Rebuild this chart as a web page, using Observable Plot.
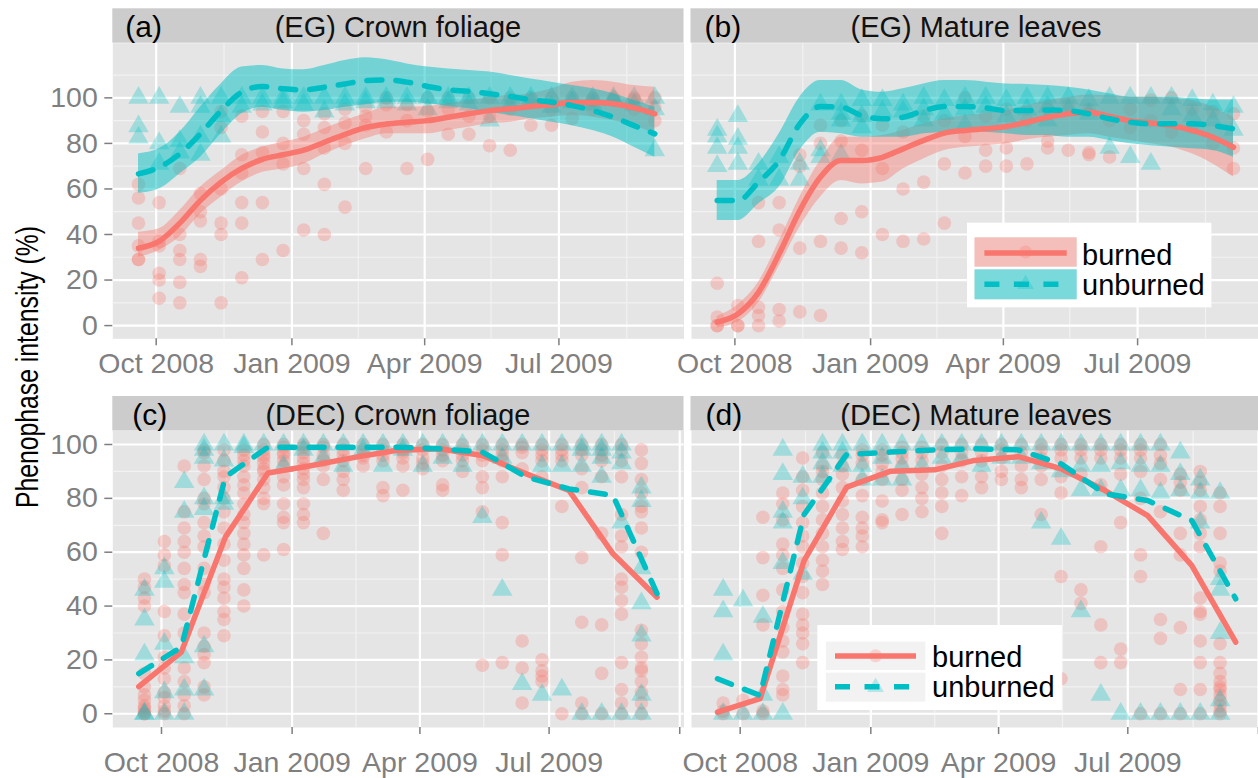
<!DOCTYPE html>
<html><head><meta charset="utf-8">
<script src="https://cdn.jsdelivr.net/npm/d3@7"></script>
<script src="https://cdn.jsdelivr.net/npm/@observablehq/plot@0.6"></script>
<style>
html,body{margin:0;padding:0;background:#fff;}
#root{position:relative;width:1258px;height:778px;overflow:hidden;font-family:"Liberation Sans",Arial,sans-serif;}
#root svg{position:absolute;}
</style></head><body><div id="root"></div>
<script>
// ---------- data ----------
const surveyDates = ["2008-09-19","2008-10-03","2008-10-17","2008-10-31","2008-11-14","2008-11-28","2008-12-12","2008-12-26","2009-01-09","2009-01-23","2009-02-06","2009-02-20","2009-03-06","2009-03-20","2009-04-03","2009-04-17","2009-05-01","2009-05-15","2009-05-29","2009-06-12","2009-06-26","2009-07-10","2009-07-24","2009-08-07","2009-08-21","2009-09-04"];
const monthDates = ["2008-09-15","2008-10-15","2008-11-15","2008-12-15","2009-01-15","2009-02-15","2009-03-15","2009-04-15","2009-05-15","2009-06-15","2009-07-15","2009-08-15","2009-09-15"];
const xTickDates = ["2008-10-01","2009-01-01","2009-04-01","2009-07-01","2009-10-01"];
const xTickLabels = ["Oct 2008","Jan 2009","Apr 2009","Jul 2009",""];
const xMinorDates = ["2008-11-16","2009-02-15","2009-05-16","2009-08-16"];
const yTicks = [0,20,40,60,80,100];
const yTickLabels = ["0","20","40","60","80","100"];
const stripTitles = ["(EG) Crown foliage","(EG) Mature leaves","(DEC) Crown foliage","(DEC) Mature leaves"];
const panelTags = ["(a)","(b)","(c)","(d)"];
const groups = ["burned","unburned"];
const yTitle = "Phenophase intensity (%)";

// (a) EG crown foliage: loess fit + 95% band at survey dates
const aBurnedFit = [34,37,45,55,63,69,73,75,77,80.5,84,87,88.5,89.3,90,91.5,93,94.4,95.2,96.2,97,98,98,97.4,95.6,93];
const aBurnedLo  = [30,33,39,49,56.5,63,67.3,68.8,71,75.4,79,82,84.2,84.2,84.2,85.7,87.1,88.6,89.3,90.8,91.5,92.2,91.5,90,87.8,84.2];
const aBurnedHi  = [41,42.5,50.5,60.8,68,74.7,78.3,80.5,82.7,86.4,90,93,95.9,95.9,96.2,97.4,98.8,100.3,101,101.8,104,106.9,107.6,106.9,105.4,104.7];
const aUnbFit = [66.6,69.5,75.4,84.2,94.4,102.5,105,104,103.5,104.7,106.1,107.6,107.9,106.9,105,103.5,102.9,101.8,100.6,99.1,98.1,96.6,94.4,91.5,87.8,84.2];
const aUnbLo  = [58.1,60,66.6,73.9,84.2,93,95.9,94.4,93.7,94.4,95.9,97,98.1,98.1,97.4,96.2,95.2,93.7,92.2,90.8,89.3,87.8,85.7,82.7,78.3,73.9];
const aUnbHi  = [75.4,77.6,84.9,95.9,106.1,113.5,114.2,112.7,112.3,114.2,116.4,117.6,116.7,114.9,113.5,112.7,112,111.3,109.8,108.3,106.9,105.4,104,101.8,98.8,95.9];
const aBurnedPts = [[62,56,45,29,29,35],[54,37,35,23,20,12],[69,33,29,19,10,40],[50,29,26,46,58],[94,87,45,40,10,60],[92,67,54,45,21,75],[94,76,54,29,85],[94,71,33,80],[84,69,42,90],[93,87,62,40,78],[89,52,95,80],[96,92,69,88],[97,85,100],[97,69,90],[94,73,100],[84,95,100],[84,100,92],[92,79,100],[77,95,100],[88,100],[88,100,95],[91,100],[99,100,95],[99,100],[100,99,95],[100,96,90]];
const aUnbPts = [[100,87.5,82.5],[100,80,71],[96,81,76],[100,96,83,75],[100,92,83],[100,96],[100,97],[100,98],[100,97],[100,94],[100,97],[100,98],[100,98],[100,97],[100,95],[100,98],[100,97],[100,90],[100,97],[100,98],[100,96],[100,98],[100,97],[100,99],[100,97],[100,77,95]];

// (b) EG mature leaves
const bBurnedFit = [1.5,5.1,14.6,31.5,50.5,65.2,72.5,72.5,73.9,77.6,81.3,84.5,85.7,86.4,87.4,89.3,91.5,93,93.7,91.8,90,88.9,87.8,85.7,82.7,78.3];
const bBurnedLo  = [-1,1.5,10,26,43.2,56.4,63.7,62.2,63,68.8,73.2,76.9,78.3,79,79.8,81.6,82.7,83.5,84.2,82.7,81.3,79.8,78.3,75.4,71,65.2];
const bBurnedHi  = [4,9,19,37,56.4,72.5,82.7,82.7,83.5,85.7,88.6,90.8,92.2,93,94.4,96.6,98.8,100.3,101.3,101,100.3,100.3,99.6,98.8,95.9,91.5];
const bUnbFit = [54.9,54.9,63,72.5,88.6,96.2,95.9,92.2,90.8,91.5,94.4,96.2,96.2,95.6,94.4,94.4,94.7,94.4,93,90.8,89.3,88.6,88.6,88.6,87.8,86.4];
const bUnbLo  = [46.1,46.1,53.4,60.8,76.9,84.9,84.2,82.7,82.7,82.7,84.2,84.9,85.7,84.9,84.2,83.5,83.5,82.7,82.7,81.3,79.8,79,78.3,77.6,76.9,73.9];
const bUnbHi  = [63.7,63.7,71,84.2,100.3,107.6,107.6,103.5,102.5,104,106.1,107.6,107.6,106.9,106.1,105.9,105.4,104.7,103.5,101.8,100.3,100.3,100.3,99.6,99.1,99.1];
const bBurnedPts = [[18.6,3.7,0,0],[8.8,0,0],[54,37,8,4.4,0],[54,42,7,2],[75,70,34,6],[88,37,4.4,80],[81,47,34,90],[77,50,32,92],[69,40,88],[60,37,85],[63,38,92],[71,45,90],[100,83,67],[77,70,92],[78,70,95],[71,90],[81,78,95],[77,97],[76,75,95],[74,90],[87,95],[99,90],[100,85],[87,95],[94,80],[93,78,69]];
const bUnbPts = [[86,83,78,70],[92,82,78,71],[71,64],[74,64],[71,64],[97,77,74],[97,93,90,75],[99,92,87],[99,94],[97,94],[100,95,90],[99,93],[100,95,88],[100,96],[99,92],[100,95],[100,96,90],[100,95],[99,93],[100,78],[100,74],[100,71],[100,95],[99,92],[97,90],[96,86]];

// (c) DEC crown foliage: monthly means
const cBurnedLine = [10.1,22.9,65.6,89.4,92.2,95.3,97.8,98.4,95.9,89.1,82.9,59.4,43.3];
const cUnbLine = [14.9,24.8,88,99,99,99,99,98.4,97.2,87.9,83.5,81.1,44.6];
const cBurnedPts = [[50,47,43,40,15,10,7,3,2,0,0,1,5],[64,59,55,38,29,21,17,13,8,6,3,0,1],[92,75,69,64,60,54,48,45,37,30,17,12,7,3,0],[98,97,87,78,71,66,62,54,48,45,30,25,22,19,10,7,92,80],[94,88,80,75,69,63,57,50,47,43,38,35,29,98,90,84],[98,92,88,85,82,78,74,71,67,63,59,54,46,40,96,94],[98,95,93,90,87,84,80,78,59,100,96,91],[99,97,94,92,88,85,78,73,71,61,100,96],[99,97,93,89,87,84,78,74,71,100,95,91],[99,96,92,87,67,100,94],[100,98,94,90,87,83,96],[100,98,92,96,95],[100,98,94,84,81,96],[100,98,95,92,83,97],[100,98,95,91,93],[100,98,94,85,83,96],[100,98,94,90,96],[100,98,94,88,84,75,18,96],[100,98,94,88,71,59,19,96],[100,97,91,27,17,4,99],[100,98,94,88,20,16,14,12,96],[100,98,94,77,0,96],[100,98,91,84,58,34,4,0,96],[100,98,94,88,67,33,15,0,96],[100,94,88,74,66,62,50,47,42,37,19,9,4,0,98],[98,93,87,82,77,75,69,60,31,26,21,17,16,12,0,4,8]];
const cUnbPts = [[46,35,22,0,0],[54,49,26,8,0],[86,75,21,9,0],[100,98,95,80,76,25,9],[100,94,80,78],[100,99],[100],[100,92],[100,98],[100,95],[100,92],[100,98],[100,92],[100,98],[100,92],[100,95],[100,92],[100,73],[100,95,46],[100,11],[100,92,7],[100,92,9],[100,98,92,0],[100,98,95,88,0],[100,97,93,71,0],[84,79,54,41,29,7,0]];

// (d) DEC mature leaves
const dBurnedLine = [0.6,5.6,56.9,84.2,90.1,90.6,94.1,95.5,91,82.9,73.6,55.1,26.6];
const dUnbLine = [13,6.8,74,96.3,97.2,98,98.4,98,92.8,81.7,79.2,71.8,42.7];
const dBurnedPts = [[4,1,0],[5,0],[73,58,44,33,1,0],[82,78,72,63,59,54,46,38,32,27,23,14,9,7],[95,88,83,77,71,66,62,56,51,45,37,33,30,26,19],[97,92,87,82,77,72,67,62,57,53,48,90],[89,84,79,74,69,64,61,96,92],[93,87,81,73,69,66,62,98,96],[98,93,87,79,72,71,96,90],[97,92,87,83,74,99,95],[99,94,89,84,80,75,97],[97,92,87,82,77,67,100],[100,94,88,81,97],[100,94,88,84,97],[100,95,90,87,98],[100,97,92,87,84],[100,95,92,87,74,98],[100,95,88,82,51,13,98],[100,95,89,46,41,98],[100,95,85,62,33,19,98],[100,95,89,71,24,19,98],[100,95,90,80,59,51,0,98],[100,93,87,75,35,28,0,96],[89,83,67,59,32,9,0,86],[90,83,77,72,67,62,43,38,37,27,19,9,0,86],[82,77,67,56,53,26,19,15,12,10,7,5,1,0,3,9]];
const dUnbPts = [[46,38,22,0],[42,0],[36,7,0],[98,89,75,71,56,0],[88,80,52],[100,97,93,88],[100,97,92],[100,92,87],[100,95,87],[100,92,87],[100,92],[100,95],[100,95],[100,92],[100,95],[100,95],[100,93,71],[100,90,65],[100,92,83,38],[100,92,83,7],[100,93,83,0],[100,92,83,0],[100,92,82,0],[97,89,83,0],[87,82,71,0],[82,50,46,30,5,0]];

// ---------- styling / layout ----------
const C_B = "#F8766D", C_U = "#00BFC4";
const FONT = "Liberation Sans, Arial, sans-serif";
const toDate = s => new Date(s + "T00:00:00Z");
const panelW = 571.2;
const colLeft = [112.3, 690.5];
const rows = [
  {svgTop: 0, height: 390, panelTop: 42.7, panelBottom: 338.3, stripTop: 8.3, xDomain: ["2008-09-01T14:00:00Z","2009-09-23T19:00:00Z"], yDomain: [-5.8, 124], yMinor: [10,30,50,70,90,110], xPad: 6.5},
  {svgTop: 390, height: 388, panelTop: 430, panelBottom: 727, stripTop: 396, xDomain: ["2008-08-27T17:00:00Z","2009-10-04T00:00:00Z"], yDomain: [-5.1, 105.2], yMinor: [10,30,50,70,90], xPad: 17.5}
];

const root = document.getElementById("root");

function flat(cols) {
  const out = [];
  cols.forEach((vals, i) => vals.forEach(v => out.push({date: toDate(surveyDates[i]), v})));
  return out;
}

function drawPanel(p) {
  const row = rows[p.row];
  const x0 = new Date(row.xDomain[0]), x1 = new Date(row.xDomain[1]);
  const majors = xTickDates.map(toDate).filter(d => d >= x0 && d <= x1);
  const labelOf = d => xTickLabels[xTickDates.findIndex(s => toDate(s).getTime() === d.getTime())];
  const fitDates = (p.fitDates).map(toDate);
  const fitB = fitDates.map((d, i) => ({date: d, fit: p.fitB[i], lo: p.loB ? p.loB[i] : null, hi: p.hiB ? p.hiB[i] : null}));
  const fitU = fitDates.map((d, i) => ({date: d, fit: p.fitU[i], lo: p.loU ? p.loU[i] : null, hi: p.hiU ? p.hiU[i] : null}));
  const ml = p.col === 0 ? colLeft[0] : 0;
  const marks = [
    Plot.frame({fill: "#E5E5E5", stroke: "none"}),
    Plot.ruleY(row.yMinor, {stroke: "#F2F2F2", strokeWidth: 1.2}),
    Plot.ruleX(xMinorDates.map(toDate), {stroke: "#F2F2F2", strokeWidth: 1.2}),
    Plot.ruleY(yTicks, {stroke: "#FFFFFF", strokeWidth: 2.2}),
    Plot.ruleX(majors, {stroke: "#FFFFFF", strokeWidth: 2.2}),
    Plot.axisX({ticks: majors, tickFormat: labelOf, tickSize: 7, tickPadding: row.xPad, stroke: "#7F7F7F", fill: "#7F7F7F", strokeWidth: 1.5, fontSize: 28.5, label: null})
  ];
  if (p.col === 0) {
    marks.push(Plot.axisY({ticks: yTicks, tickFormat: (d) => yTickLabels[yTicks.indexOf(d)], tickSize: 8, tickPadding: 7, stroke: "#7F7F7F", fill: "#7F7F7F", strokeWidth: 1.5, fontSize: 28.5, label: null}));
  }
  marks.push(
    Plot.dot(flat(p.ptsB), {x: "date", y: "v", r: 6.8, fill: C_B, fillOpacity: 0.3, stroke: "none"}),
    Plot.dot(flat(p.ptsU), {x: "date", y: "v", r: 7.6, symbol: "triangle", fill: C_U, fillOpacity: 0.3, stroke: "none"})
  );
  if (p.loB) {
    marks.push(
      Plot.areaY(fitB, {x: "date", y1: "lo", y2: "hi", fill: C_B, fillOpacity: 0.42, curve: "monotone-x"}),
      Plot.areaY(fitU, {x: "date", y1: "lo", y2: "hi", fill: C_U, fillOpacity: 0.5, curve: "monotone-x"})
    );
  }
  marks.push(
    Plot.line(fitB, {x: "date", y: "fit", stroke: C_B, strokeWidth: 5.5, curve: p.curve}),
    Plot.line(fitU, {x: "date", y: "fit", stroke: C_U, strokeWidth: 5.5, strokeDasharray: "15,14", curve: p.curve})
  );
  const svg = Plot.plot({
    width: ml + panelW,
    height: row.height,
    marginLeft: ml, marginRight: 0,
    marginTop: row.panelTop - row.svgTop,
    marginBottom: row.height - (row.panelBottom - row.svgTop),
    x: {type: "utc", domain: [x0, x1], axis: null},
    y: {domain: row.yDomain, axis: null},
    style: {fontFamily: FONT, fontSize: "28.5px", background: "transparent", overflow: "visible", maxWidth: "none"},
    marks
  });
  svg.style.left = (p.col === 0 ? 0 : colLeft[1]) + "px";
  svg.style.top = row.svgTop + "px";
  root.appendChild(svg);
}

drawPanel({row: 0, col: 0, fitDates: surveyDates, fitB: aBurnedFit, loB: aBurnedLo, hiB: aBurnedHi, fitU: aUnbFit, loU: aUnbLo, hiU: aUnbHi, ptsB: aBurnedPts, ptsU: aUnbPts, curve: "monotone-x"});
drawPanel({row: 0, col: 1, fitDates: surveyDates, fitB: bBurnedFit, loB: bBurnedLo, hiB: bBurnedHi, fitU: bUnbFit, loU: bUnbLo, hiU: bUnbHi, ptsB: bBurnedPts, ptsU: bUnbPts, curve: "monotone-x"});
drawPanel({row: 1, col: 0, fitDates: monthDates, fitB: cBurnedLine, fitU: cUnbLine, ptsB: cBurnedPts, ptsU: cUnbPts, curve: "linear"});
drawPanel({row: 1, col: 1, fitDates: monthDates, fitB: dBurnedLine, fitU: dUnbLine, ptsB: dBurnedPts, ptsU: dUnbPts, curve: "linear"});

// ---------- overlay: strips, tags, y title, legends ----------
const ov = d3.select(root).append("svg").attr("width", 1258).attr("height", 778)
  .style("left", "0px").style("top", "0px").style("font-family", FONT);
const stripH = 34.4;
const tagOffsets = [13, 14, 20, 15];
const titleLens = [246.5, 251, 265, 271.6];
[0,1,2,3].forEach(k => {
  const r = rows[Math.floor(k / 2)], c = k % 2;
  const left = colLeft[c];
  ov.append("rect").attr("x", left).attr("y", r.stripTop).attr("width", panelW).attr("height", stripH).attr("fill", "#CCCCCC");
  ov.append("text").attr("x", left + panelW / 2).attr("y", r.stripTop + 28.5).attr("text-anchor", "middle")
    .attr("font-size", 30).attr("fill", "#111").attr("textLength", titleLens[k]).attr("lengthAdjust", "spacingAndGlyphs").text(stripTitles[k]);
  ov.append("text").attr("x", left + tagOffsets[k]).attr("y", r.stripTop + 28.5)
    .attr("font-size", 30).attr("fill", "#000").text(panelTags[k]);
});
ov.append("text").attr("transform", "translate(38,367) rotate(-90)").attr("text-anchor", "middle")
  .attr("font-size", 31).attr("fill", "#000").attr("textLength", 282).attr("lengthAdjust", "spacingAndGlyphs").text(yTitle);

function legend(box, keys, keyFill, keyBgs, lineX, lineYs, textX, textYs) {
  ov.append("rect").attr("x", box[0]).attr("y", box[1]).attr("width", box[2]).attr("height", box[3]).attr("fill", "#FFFFFF");
  groups.forEach((g, i) => {
    const k = keys[i];
    ov.append("rect").attr("x", k[0]).attr("y", k[1]).attr("width", k[2]).attr("height", k[3]).attr("fill", keyBgs[i]);
    if (keyFill) ov.append("rect").attr("x", k[0]).attr("y", k[1]).attr("width", k[2]).attr("height", k[3]).attr("fill", i ? C_U : C_B).attr("fill-opacity", i ? 0.5 : 0.42);
    const cx = k[0] + k[2] / 2, cy = k[1] + k[3] / 2;
    if (i === 0) ov.append("circle").attr("cx", cx).attr("cy", cy).attr("r", 6.5).attr("fill", C_B).attr("fill-opacity", 0.25);
    else ov.append("path").attr("d", d3.symbol(d3.symbolTriangle, 120)()).attr("transform", `translate(${cx},${cy})`).attr("fill", C_U).attr("fill-opacity", 0.25);
    const ln = ov.append("line").attr("x1", lineX[0]).attr("x2", lineX[1]).attr("y1", lineYs[i]).attr("y2", lineYs[i])
      .attr("stroke", i ? C_U : C_B).attr("stroke-width", 5.5);
    if (i) ln.attr("stroke-dasharray", "15,14.5");
    ov.append("text").attr("x", textX).attr("y", textYs[i]).attr("font-size", 29).attr("fill", "#000").text(g);
  });
}
legend([967, 222.7, 244.4, 84.6], [[974.5, 237.3, 102.2, 29.4], [974.5, 269.3, 102.2, 30]], true, ["#F2F2F2", "#F2F2F2"], [984.4, 1066.7], [253, 284.3], 1082, [265, 295]);
legend([817.3, 625, 244.6, 85], [[825.8, 641.7, 99.6, 28.3], [825.8, 672.7, 99.6, 29]], false, ["#F2F2F2", "#F2F2F2"], [835, 916], [656, 686.7], 932, [667.3, 697.3]);
</script></body></html>
